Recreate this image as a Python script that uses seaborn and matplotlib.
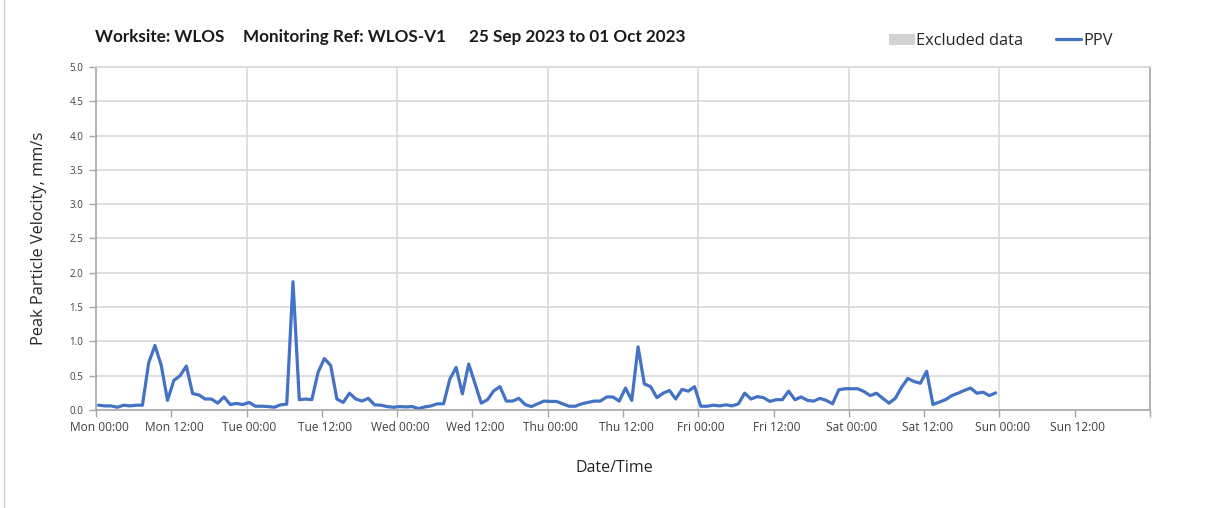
import matplotlib
matplotlib.use("Agg")
import matplotlib.pyplot as plt
import matplotlib.transforms as mtransforms
from matplotlib.patches import Patch
from matplotlib.lines import Line2D
import numpy as np
import pandas as pd
import seaborn as sns

# Hourly peak particle velocity readings (mm/s), Mon 25 Sep 2023 onwards
start_time = "2023-09-25 00:24"
ppv_values = [
    0.07, 0.06, 0.06, 0.04, 0.07, 0.06, 0.07, 0.07, 0.69, 0.94, 0.65, 0.14,
    0.43, 0.50, 0.64, 0.24, 0.22, 0.16, 0.16, 0.10, 0.19, 0.08, 0.095, 0.08,
    0.11, 0.055, 0.055, 0.05, 0.04, 0.075, 0.085, 1.87, 0.15, 0.16, 0.15, 0.55,
    0.75, 0.65, 0.16, 0.11, 0.245, 0.16, 0.13, 0.17, 0.075, 0.07, 0.05, 0.04,
    0.05, 0.045, 0.05, 0.02, 0.045, 0.06, 0.09, 0.09, 0.45, 0.62, 0.235, 0.67,
    0.39, 0.10, 0.15, 0.28, 0.34, 0.13, 0.13, 0.17, 0.08, 0.05, 0.09, 0.13,
    0.125, 0.125, 0.09, 0.055, 0.055, 0.09, 0.11, 0.13, 0.13, 0.19, 0.19, 0.13,
    0.32, 0.14, 0.92, 0.38, 0.34, 0.18, 0.245, 0.285, 0.16, 0.30, 0.275, 0.34,
    0.055, 0.055, 0.07, 0.06, 0.075, 0.06, 0.09, 0.245, 0.16, 0.195, 0.18, 0.125,
    0.15, 0.15, 0.275, 0.15, 0.19, 0.14, 0.13, 0.17, 0.14, 0.09, 0.295, 0.31,
    0.31, 0.31, 0.27, 0.21, 0.245, 0.17, 0.10, 0.17, 0.33, 0.46, 0.415, 0.39,
    0.565, 0.08, 0.115, 0.15, 0.21, 0.245, 0.285, 0.32, 0.245, 0.26, 0.21, 0.25,
]
y_ticks = [0.0, 0.5, 1.0, 1.5, 2.0, 2.5, 3.0, 3.5, 4.0, 4.5, 5.0]
x_start = "2023-09-25 00:00"
x_end = "2023-10-02 00:00"

title_parts = ["Worksite: WLOS", "Monitoring Ref: WLOS-V1", "25 Sep 2023 to 01 Oct 2023"]
legend_labels = ["Excluded data", "PPV"]

df = pd.DataFrame({
    "time": pd.date_range(start_time, periods=len(ppv_values), freq="h"),
    "ppv": ppv_values,
})

sns.set_theme(style="white")
plt.rcParams["font.family"] = ["Open Sans", "DejaVu Sans"]

BLUE = "#4472C4"
GRID = "#d9d9d9"
AXIS = "#a6a6a6"
W, H = 1208, 508

fig = plt.figure(figsize=(W / 100, H / 100), dpi=100)
ax = fig.add_axes([96 / W, 1 - 410 / H, (1150 - 96) / W, (410 - 67) / H])

sns.lineplot(data=df, x="time", y="ppv", ax=ax, color=BLUE, linewidth=2.3, legend=False)

ax.set_xlim(pd.Timestamp(x_start), pd.Timestamp(x_end))
ax.set_ylim(0, 5)
ax.set_yticks(y_ticks)
ax.set_yticklabels([f"{v:.1f}" for v in y_ticks], fontsize=7, color="#404040")

# 12-hourly tick labels (none at the closing edge), daily vertical gridlines
x_ticks = pd.date_range(x_start, x_end, freq="12h")
ax.set_xticks(x_ticks)
ax.set_xticklabels([t.strftime("%a %H:%M") for t in x_ticks[:-1]] + [""])
ax.tick_params(axis="x", labelsize=8.6, labelcolor="#404040", length=5, width=1,
               color=AXIS, direction="out", pad=3, bottom=True)
ax.tick_params(axis="y", length=5, width=1, color=AXIS, direction="out", pad=4, left=True)
shift = mtransforms.ScaledTranslation(3 / 100, 0, fig.dpi_scale_trans)
for lbl in ax.get_xticklabels():
    lbl.set_transform(lbl.get_transform() + shift)

for yv in y_ticks[1:]:
    ax.axhline(yv, color=GRID, linewidth=1.2, zorder=0)
for day in pd.date_range("2023-09-26", periods=6, freq="D"):
    ax.axvline(day, color=GRID, linewidth=1.2, zorder=0)

for side in ["left", "bottom", "right", "top"]:
    ax.spines[side].set_visible(True)
    ax.spines[side].set_color(AXIS)
    ax.spines[side].set_linewidth(1.2)
ax.spines["top"].set_color(GRID)

ax.set_xlabel("")
ax.set_ylabel("Peak Particle Velocity, mm/s", fontsize=11.8, color="#262626", labelpad=16)
fig.text(614 / W, 1 - 468 / H, "Date/Time", fontsize=11.5, color="#262626",
         ha="center", va="center")

# title in three pieces
for txt, xp in zip(title_parts, [95, 243, 469]):
    fig.text(xp / W, 1 - 37 / H, txt, fontsize=12.3, fontweight="bold",
             color="#1a1a1a", ha="left", va="center", family=["Lato", "DejaVu Sans"])

handles = [Patch(facecolor="#d3d3d3", edgecolor="none"),
           Line2D([0], [0], color=BLUE, linewidth=2.3)]
fig.legend(handles, legend_labels, loc="center left",
           bbox_to_anchor=(876 / W, 1 - 41 / H), ncol=2, frameon=False,
           fontsize=11.8, handlelength=1.55, handletextpad=0.1, columnspacing=2.0,
           labelcolor="#262626", borderpad=0.3)

# thin left page border
fig.add_artist(Line2D([4 / W, 4 / W], [0, 1], color="#d0d0d0", linewidth=1,
                      transform=fig.transFigure))

fig.savefig("out.png", dpi=100)
